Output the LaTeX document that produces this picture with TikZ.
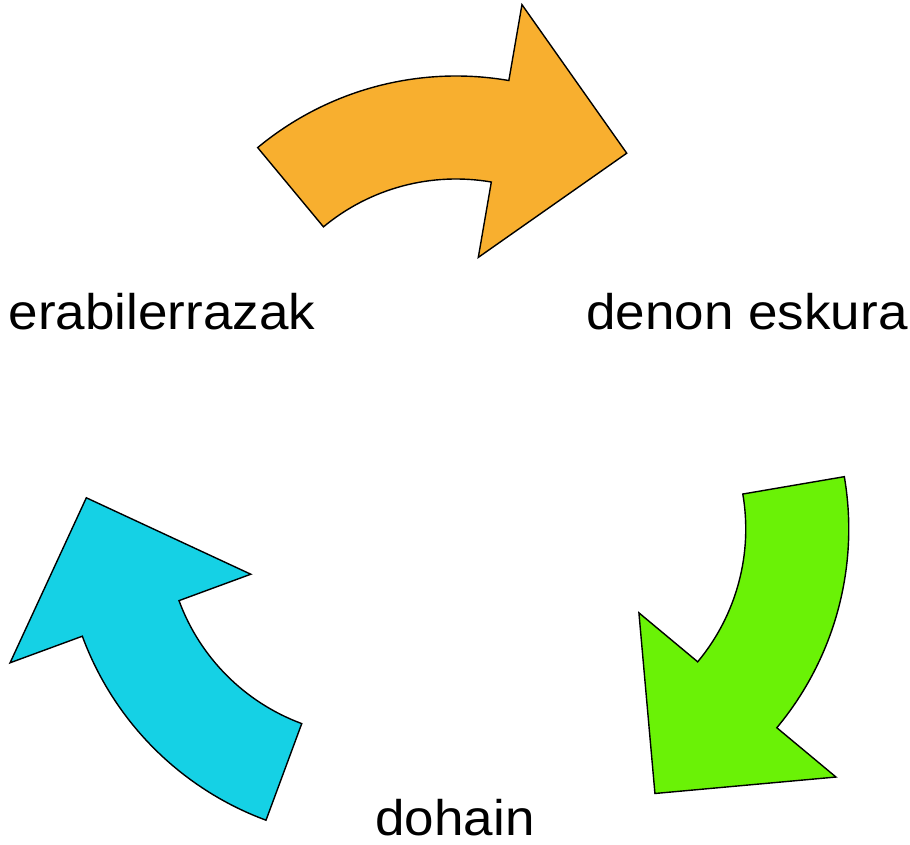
\documentclass[tikz,border=0pt]{standalone}
\usepackage{fontspec}
\setmainfont[FakeStretch=1.06]{Liberation Sans}
\definecolor{arrorange}{RGB}{248,175,47}
\definecolor{arrgreen}{RGB}{106,242,6}
\definecolor{arrcyan}{RGB}{21,209,229}
\tikzset{
  cyclearrow/.style={draw=black, line width=1.4pt, line join=miter},
  lab/.style={anchor=base, inner sep=0pt, font=\fontsize{50}{60}\selectfont}
}
\newcommand{\cyclearrowpath}[2]{%
  \begin{scope}[shift={(456pt,363.5pt)}, rotate=#1, shift={(0pt,95pt)}]
    \filldraw[cyclearrow, fill=#2]
      (129.7:310.5pt) arc[start angle=129.7, end angle=80.2, radius=310.5pt]
      -- (80.2:387.5pt) -- (53.8:289.1pt) -- (80.2:131pt) -- (80.2:207.5pt)
      arc[start angle=80.2, end angle=129.7, radius=207.5pt] -- cycle;
  \end{scope}}
\begin{document}
\begin{tikzpicture}[x=1pt,y=1pt]
  \useasboundingbox (0,0) rectangle (910,845);
  \cyclearrowpath{0}{arrorange}
  \cyclearrowpath{-120}{arrgreen}
  \cyclearrowpath{-240}{arrcyan}
  \node[lab] (lab1) at (162,515.7) {erabilerrazak};
  \node[lab] (lab2) at (747,515.7) {denon eskura};
  \node[lab] (lab3) at (455,9.3) {dohain};
\end{tikzpicture}
\end{document}
